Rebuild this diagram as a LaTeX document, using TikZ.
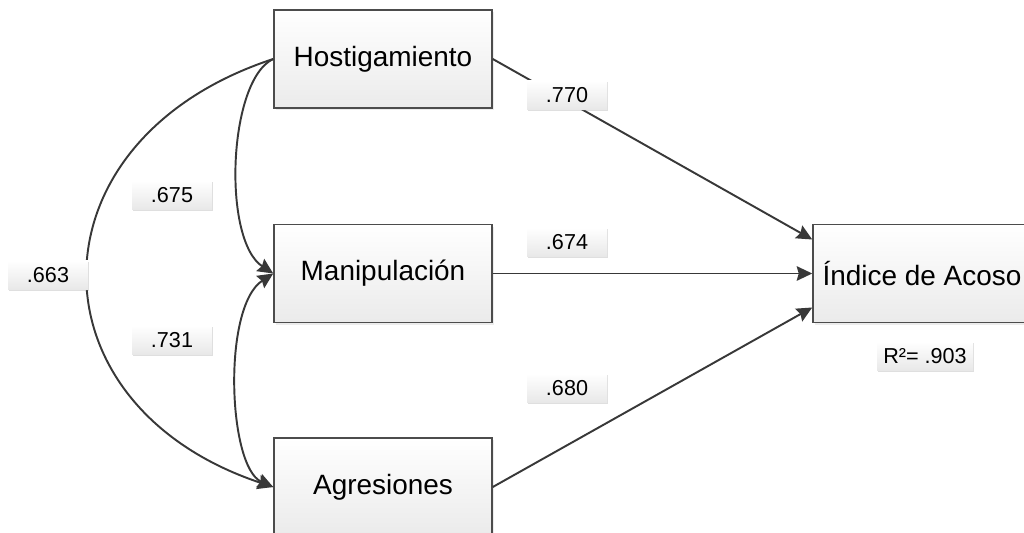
\documentclass[tikz,border=0pt]{standalone}
\usepackage{fontspec}
\setmainfont{Liberation Sans}
\usetikzlibrary{arrows.meta,shadows}

\begin{document}
\begin{tikzpicture}[x=0.02cm, y=-0.02cm,
    varbox/.style={draw=black!70, line width=0.9pt, top color=white, bottom color=black!8,
        minimum width=4.36cm, minimum height=1.96cm, inner sep=0pt,
        font=\fontsize{15.9}{18}\selectfont,
        drop shadow={shadow xshift=1.2pt, shadow yshift=-1.2pt, opacity=0.15}},
    coefbox/.style={top color=white, bottom color=black!9,
        minimum width=1.6cm, minimum height=0.58cm, inner sep=0pt,
        font=\fontsize{12.3}{14}\selectfont,
        drop shadow={shadow xshift=0.8pt, shadow yshift=-0.8pt, opacity=0.25}},
    tip/.tip={Stealth[length=3.1mm,width=2.9mm,inset=0.4mm]},
    link/.style={line width=1.1pt, draw=black!78, -tip},
    corr/.style={line width=1.1pt, draw=black!78}]

    % Fix the frame to the size of the original figure
    \clip (0,0) rectangle (1024,533);

    % The three predictors and the outcome
    \node[varbox] (host)  at (383,59)    {Hostigamiento};
    \node[varbox] (manip) at (383,273.5) {Manipulación};
    \node[varbox] (agres) at (383,487)   {Agresiones};
    \node[varbox] (index) at (922,273.5) {Índice de Acoso};

    % Correlations between the predictors (curved arrows on the left)
    \draw[corr, -tip]
        (host.west) .. controls (228,80) and (222,240) .. (manip.west);
    \draw[corr, tip-tip]
        (manip.west) .. controls (222,307) and (228,467) .. (agres.west);
    \draw[corr, -tip]
        (host.west) .. controls (26,140) and (26,405) .. (agres.west);

    % Direct effects on the index
    \draw[link] (host.east)  -- ([yshift=0.68cm]index.west);
    \draw[link] (manip.east) -- (index.west);
    \draw[link] (agres.east) -- ([yshift=-0.68cm]index.west);

    % Coefficients
    \node[coefbox] (c770) at (567,95)  {.770};
    \node[coefbox] (c674) at (567,242) {.674};
    \node[coefbox] (c680) at (567,388) {.680};
    \node[coefbox] (c675) at (172,195) {.675};
    \node[coefbox] (c731) at (172,340) {.731};
    \node[coefbox] (c663) at (48,275)  {.663};

    % Explained variance below the outcome
    \node[coefbox, minimum width=1.92cm] (rsq) at (925,356) {R²= .903};

\end{tikzpicture}
\end{document}
